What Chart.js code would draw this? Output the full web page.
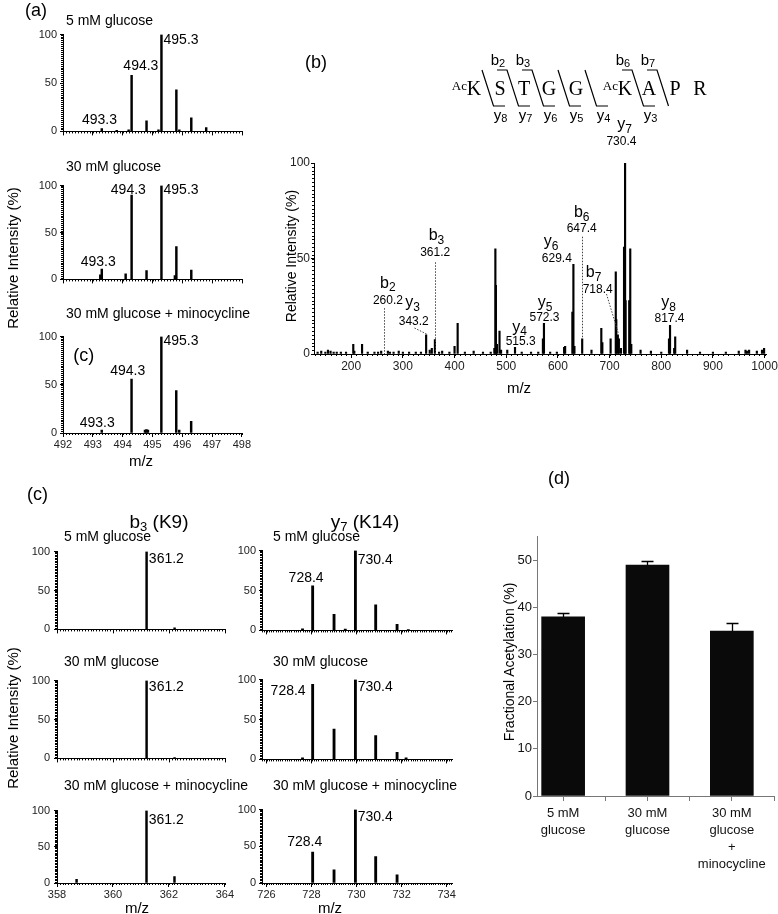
<!DOCTYPE html>
<html><head><meta charset="utf-8">
<script src="https://cdn.jsdelivr.net/npm/chart.js@4.4.1/dist/chart.umd.min.js"></script>
<style>
html,body{margin:0;padding:0;background:#fff;}
#wrap{position:relative;width:778px;height:914px;overflow:hidden;background:#fff;}
#wrap canvas{position:absolute;}
#wrap svg{position:absolute;left:0;top:0;pointer-events:none;}
</style></head>
<body><div id="wrap">
<svg width="778" height="914" font-family="Liberation Sans, Arial, sans-serif" fill="#000">
  <g dominant-baseline="central">
    <text x="25" y="10" font-size="18">(a)</text>
    <g font-size="14">
      <text x="66" y="20">5 mM glucose</text>
      <text x="66" y="166">30 mM glucose</text>
      <text x="66" y="313">30 mM glucose + minocycline</text>
    </g>
    <text x="141" y="460" font-size="15" text-anchor="middle">m/z</text>
    <text transform="translate(12,258) rotate(-90)" font-size="15" text-anchor="middle">Relative Intensity (%)</text>

    <text x="305" y="62" font-size="18">(b)</text>
    <text transform="translate(291,256) rotate(-90)" font-size="14" text-anchor="middle">Relative Intensity (%)</text>
    <text x="519" y="387" font-size="15" text-anchor="middle">m/z</text>

    <text x="27" y="494" font-size="18">(c)</text>
    <text x="159" y="521" font-size="19" text-anchor="middle">b<tspan font-size="13" dy="5">3</tspan><tspan dy="-5"> (K9)</tspan></text>
    <text x="365" y="521" font-size="19" text-anchor="middle">y<tspan font-size="13" dy="5">7</tspan><tspan dy="-5"> (K14)</tspan></text>
    <g font-size="14">
      <text x="64" y="536">5 mM glucose</text>
      <text x="273" y="536">5 mM glucose</text>
      <text x="64" y="661">30 mM glucose</text>
      <text x="273" y="661">30 mM glucose</text>
      <text x="64" y="785">30 mM glucose + minocycline</text>
      <text x="273" y="785">30 mM glucose + minocycline</text>
    </g>
    <text transform="translate(12,718) rotate(-90)" font-size="15" text-anchor="middle">Relative Intensity (%)</text>
    <text x="137" y="907" font-size="15" text-anchor="middle">m/z</text>
    <text x="330" y="907" font-size="15" text-anchor="middle">m/z</text>

    <text x="548" y="478" font-size="18">(d)</text>
    <text transform="translate(509,662) rotate(-90)" font-size="14" text-anchor="middle">Fractional Acetylation (%)</text>
  </g>
  <!-- peptide sequence -->
  <g font-family="Liberation Serif, Times New Roman, serif" font-size="20" text-anchor="middle">
    <text x="474" y="95">K</text><text x="500" y="95">S</text><text x="524" y="95">T</text>
    <text x="549" y="95">G</text><text x="576" y="95">G</text><text x="625" y="95">K</text>
    <text x="649" y="95">A</text><text x="675" y="95">P</text><text x="700" y="95">R</text>
  </g>
  <g font-family="Liberation Serif, Times New Roman, serif" font-size="13" text-anchor="end">
    <text x="467" y="90">Ac</text><text x="618" y="90">Ac</text>
  </g>
  <path d="M482 70L493.5 106h11.5 M497 70h10L518.5 106h11.5 M522 70h10L543.5 106h11.5 M558 70L569.5 106h11.5 M585 70L596.5 106h11.5 M622 70h10L643.5 106h11.5 M647 70h10L668.5 106" stroke="#000" stroke-width="1.2" fill="none"/>
  <g font-size="15" text-anchor="middle" dominant-baseline="central">
    <text x="498" y="59">b<tspan font-size="11" dy="4">2</tspan></text>
    <text x="523" y="59">b<tspan font-size="11" dy="4">3</tspan></text>
    <text x="623" y="59">b<tspan font-size="11" dy="4">6</tspan></text>
    <text x="648" y="59">b<tspan font-size="11" dy="4">7</tspan></text>
    <text x="500.5" y="114">y<tspan font-size="11" dy="4">8</tspan></text>
    <text x="525.5" y="114">y<tspan font-size="11" dy="4">7</tspan></text>
    <text x="550.5" y="114">y<tspan font-size="11" dy="4">6</tspan></text>
    <text x="576.5" y="114">y<tspan font-size="11" dy="4">5</tspan></text>
    <text x="603.5" y="114">y<tspan font-size="11" dy="4">4</tspan></text>
    <text x="650.5" y="114">y<tspan font-size="11" dy="4">3</tspan></text>
  </g>
</svg>
</div>
<script>
// ---------------- DATA ----------------
const specYTicks = [0, 50, 100];

// (a) precursor isotope clusters, [m/z, relative intensity %]
const aXTicks = [492, 493, 494, 495, 496, 497, 498];
const a5mM = [[493.3,3],[493.8,1],[494.2,1.5],[494.3,58],[494.8,11],[495.2,1.5],[495.3,100],[495.8,43],[495.9,1.5],[496.3,14],[496.8,4]];
const a30mM = [[493.25,5],[493.3,11],[494.1,6],[494.3,90],[494.8,9.5],[495.3,100],[495.75,4],[495.8,35],[496.3,10]];
const a30mMMino = [[493.3,3],[494.3,56],[494.75,3],[494.8,3.5],[494.85,3],[495.3,100],[495.8,44],[495.9,3],[496.3,12]];

// (b) MS/MS spectrum, [m/z, relative intensity %]
const bXTicks = [200, 300, 400, 500, 600, 700, 800, 900, 1000];
const bSpectrum = [
 [135,1],[142,1.5],[150,1],[155,2],[160,1.5],[166,1],[172,1],[180,1],[190,1],
 [204,5],[206,1.5],[221,5],[232,1],[245,1],[252,1],[258,1.5],[271,1.5],[275,1],[282,1],[292,1.5],[300,1],[312,1],[325,1],[335,1],
 [345,10],[352,2],[356,3],[362,7.5],[370,1],[376,1.5],[390,1],[400,4],[406,16],[420,1],[437,1.5],[455,1],[470,1],
 [477,3],[479,55],[480,36],[482,5],[487,12],[490,2],[502,2],[517,3.5],[530,1],[548,1],[562,1],
 [571,8],[573,16],[585,1],[598,1],[612,3.5],[614,4],[628,22],[630,47],[632,4],[647,8],[665,2],
 [684,13.5],[686,6],[702,8],[712,43],[713,18],[716,10],[718,8],[722,3],[728,56],[730,100],[731,28],[738,28],[740,55],[742,5],
 [760,2],[780,1.5],[800,1],[815,8],[817,15],[825,3],[827,9],[850,2],[875,1],[900,1],[925,1],[950,1.5],[963,2],[966,1.5],[970,2],[985,1.5],[995,2],[999,3]
];

// (c) fragment ion clusters
const cB3Ticks = [358, 360, 362, 364];
const cB3_5mM = [[361.2,100],[362.2,2]];
const cB3_30mM = [[361.2,100],[362.2,1]];
const cB3_30mMMino = [[358.7,5],[361.2,100],[362.2,9]];
const cY7Ticks = [726, 728, 730, 732, 734];
const cY7_5mM = [[727.6,2],[728.05,56],[729.0,20],[729.5,1.5],[729.95,100],[730.85,32],[731.8,7.5],[732.3,1]];
const cY7_30mM = [[727.6,2],[728.05,94],[729.0,38],[729.95,100],[730.85,30],[731.8,9],[732.2,2]];
const cY7_30mMMino = [[728.05,42],[729.0,18],[729.95,100],[730.85,36],[731.8,11]];

// (d) fractional acetylation
const dGroups = [['5 mM','glucose'], ['30 mM','glucose'], ['30 mM','glucose','+','minocycline']];
const dValues = [38, 49, 35];
const dErrors = [0.8, 0.9, 1.8];
const dYTicks = [0, 10, 20, 30, 40, 50];

// ---------------- RENDERING ----------------
const FONT = '"Liberation Sans", Arial, sans-serif';
const wrap = document.getElementById('wrap');
const svgEl = wrap.querySelector('svg');

const minorPlugin = {
  id: 'minor',
  afterDraw(chart, args, o) {
    const ctx = chart.ctx, xs = chart.scales.x, ys = chart.scales.y, ca = chart.chartArea;
    ctx.save(); ctx.strokeStyle = '#000'; ctx.lineWidth = 1; ctx.beginPath();
    if (o.xStep) {
      const n0 = Math.ceil(xs.min / o.xStep - 1e-6), n1 = Math.floor(xs.max / o.xStep + 1e-6);
      for (let n = n0; n <= n1; n++) {
        const p = Math.round(xs.getPixelForValue(n * o.xStep)) + 0.5;
        ctx.moveTo(p, ca.bottom); ctx.lineTo(p, ca.bottom + o.xLen);
      }
    }
    if (o.yStep) {
      const n0 = Math.ceil(ys.min / o.yStep - 1e-6), n1 = Math.floor(ys.max / o.yStep + 1e-6);
      for (let n = n0; n <= n1; n++) {
        const p = Math.round(ys.getPixelForValue(n * o.yStep)) + 0.5;
        ctx.moveTo(ca.left, p); ctx.lineTo(ca.left - o.yLen, p);
      }
    }
    ctx.stroke(); ctx.restore();
  }
};

function drawLabel(ctx, main, sub, x, y, size, align) {
  const fm = size + 'px ' + FONT, fs = Math.round(size * 0.72) + 'px ' + FONT;
  ctx.font = fm; const w1 = ctx.measureText(main).width;
  let w2 = 0; if (sub) { ctx.font = fs; w2 = ctx.measureText(sub).width; }
  const x0 = align === 'left' ? x : align === 'right' ? x - w1 - w2 : x - (w1 + w2) / 2;
  ctx.textBaseline = 'middle'; ctx.textAlign = 'left';
  ctx.font = fm; ctx.fillText(main, x0, y);
  if (sub) { ctx.font = fs; ctx.fillText(sub, x0 + w1, y + size * 0.3); }
}

const notesPlugin = {
  id: 'notes',
  afterDatasetsDraw(chart, args, o) {
    const ctx = chart.ctx, xs = chart.scales.x, ys = chart.scales.y;
    ctx.save(); ctx.fillStyle = '#000';
    for (const it of (o.items || [])) {
      if (it.line) {
        ctx.beginPath(); ctx.setLineDash([1.5, 1.5]); ctx.lineWidth = 1; ctx.strokeStyle = '#444';
        it.line.forEach((p, k) => {
          const X = Math.round(xs.getPixelForValue(p[0])) + 0.5, Y = ys.getPixelForValue(p[1]);
          k ? ctx.lineTo(X, Y) : ctx.moveTo(X, Y);
        });
        ctx.stroke(); ctx.setLineDash([]);
        continue;
      }
      drawLabel(ctx, it.t, it.s, xs.getPixelForValue(it.x), ys.getPixelForValue(it.y), it.size || 14, it.align || 'center');
    }
    ctx.restore();
  }
};

function makeCanvas(plot, YW, XH, PT, PR) {
  const W = Math.round(plot.r - plot.l + YW + PR), H = Math.round(plot.b - plot.t + PT + XH);
  const cv = document.createElement('canvas');
  cv.width = W; cv.height = H;
  Object.assign(cv.style, {left: (plot.l - YW) + 'px', top: (plot.t - PT) + 'px', width: W + 'px', height: H + 'px'});
  wrap.insertBefore(cv, svgEl);
  return cv;
}

function spectrum(plot, peaks, o) {
  const YW = o.yw || 34, XH = o.xh || 6, PT = o.pt || 8, PR = o.pr || 10;
  const cv = makeCanvas(plot, YW, XH, PT, PR);
  return new Chart(cv, {
    type: 'bar',
    data: {datasets: [{data: peaks.map(p => ({x: p[0], y: p[1]})), backgroundColor: '#000', borderWidth: 0, barThickness: o.bar || 1.8}]},
    options: {
      responsive: false, maintainAspectRatio: false, animation: false, devicePixelRatio: 1,
      layout: {padding: {top: PT, right: PR, left: 0, bottom: 0}},
      plugins: {legend: {display: false}, tooltip: {enabled: false}, minor: o.minor, notes: {items: o.notes || []}},
      scales: {
        x: {type: 'linear', min: o.xmin, max: o.xmax, offset: false,
          grid: {offset: false, drawOnChartArea: false, drawTicks: true, tickLength: o.xTickLen || 4, color: '#000', lineWidth: 1},
          border: {display: true, color: '#000', width: 1},
          ticks: {display: !!o.xLabels, autoSkip: false, maxRotation: 0, minRotation: 0, padding: 1, color: '#222', font: {family: FONT, size: o.xFont || 11}, callback: v => String(v)},
          afterBuildTicks: s => { s.ticks = o.xTicks.map(v => ({value: v})); },
          afterFit: s => { s.height = XH; }},
        y: {type: 'linear', min: 0, max: 100,
          grid: {drawOnChartArea: false, drawTicks: true, tickLength: 3, color: '#000', lineWidth: 1},
          border: {display: true, color: '#000', width: 1},
          ticks: {padding: o.yPad || 3, color: '#222', font: {family: FONT, size: o.yFont || 11}, callback: v => String(v)},
          afterBuildTicks: s => { s.ticks = specYTicks.map(v => ({value: v})); },
          afterFit: s => { s.width = YW; }}
      }
    },
    plugins: [minorPlugin, notesPlugin]
  });
}

// ----- (a)
const aMinor = {xStep: 0.1, xLen: 2, yStep: 2, yLen: 2};
const aCommon = {xmin: 492, xmax: 498, xTicks: aXTicks, minor: aMinor, bar: 1.8};
spectrum({l: 63, r: 242, t: 33, b: 135}, a5mM, Object.assign({}, aCommon, {notes: [
  {t: '494.3', x: 494.61, y: 67.5}, {t: '495.3', x: 495.37, y: 94, align: 'left'}, {t: '493.3', x: 493.22, y: 11.3}]}));
spectrum({l: 63, r: 242, t: 184, b: 283}, a30mM, Object.assign({}, aCommon, {notes: [
  {t: '494.3', x: 494.19, y: 95}, {t: '495.3', x: 495.37, y: 95, align: 'left'}, {t: '493.3', x: 493.18, y: 18.5}]}));
spectrum({l: 63, r: 242, t: 335, b: 433}, a30mMMino, Object.assign({}, aCommon, {xLabels: true, xh: 22, notes: [
  {t: '494.3', x: 494.17, y: 64}, {t: '495.3', x: 495.37, y: 95, align: 'left'}, {t: '493.3', x: 493.15, y: 10.5},
  {t: '(c)', x: 492.7, y: 80, size: 18}]}));

// ----- (b)
spectrum({l: 314, r: 767, t: 163, b: 354}, bSpectrum, {
  xmin: 128, xmax: 1004, xTicks: bXTicks, xLabels: true, xh: 24, pt: 74, pr: 12, yw: 30, bar: 1.5,
  xFont: 12, yFont: 12, yPad: 1,
  minor: {xStep: 10, xLen: 2, yStep: 2, yLen: 2},
  notes: [
    {t: 'b', s: '2', x: 271, y: 37, size: 16}, {t: '260.2', x: 271, y: 28, size: 12}, {line: [[263, 24], [263, 0]]},
    {t: 'y', s: '3', x: 319, y: 26.7, size: 16}, {t: '343.2', x: 321, y: 16.8, size: 12}, {line: [[322, 13.6], [345, 10.5]]},
    {t: 'b', s: '3', x: 365, y: 62, size: 16}, {t: '361.2', x: 362.5, y: 53, size: 12}, {line: [[362, 48], [362, 0]]},
    {t: 'y', s: '4', x: 526, y: 14, size: 16}, {t: '515.3', x: 528, y: 6.3, size: 12},
    {t: 'y', s: '5', x: 575, y: 27, size: 16}, {t: '572.3', x: 574, y: 19, size: 12},
    {t: 'y', s: '6', x: 587, y: 58.6, size: 16}, {t: '629.4', x: 598, y: 50, size: 12},
    {t: 'b', s: '6', x: 646, y: 73.8, size: 16}, {t: '647.4', x: 646, y: 65.4, size: 12}, {line: [[647, 61.4], [647, 8]]},
    {t: 'b', s: '7', x: 669, y: 42.4, size: 16}, {t: '718.4', x: 677, y: 33.5, size: 12}, {line: [[694, 31.4], [716, 10.5]]},
    {t: 'y', s: '7', x: 729, y: 120, size: 16}, {t: '730.4', x: 723, y: 111, size: 12},
    {t: 'y', s: '8', x: 814, y: 27, size: 16}, {t: '817.4', x: 816, y: 18.3, size: 12}
  ]
});

// ----- (c)
const cRows = [{t: 549, b: 634}, {t: 678, b: 763}, {t: 808, b: 883}];
const cLeftData = [cB3_5mM, cB3_30mM, cB3_30mMMino];
const cRightData = [cY7_5mM, cY7_30mM, cY7_30mMMino];
const cLeftNoteY = [90, 92, 87];
const cRightNotes = [
  [{t: '730.4', x: 730.05, y: 88, align: 'left'}, {t: '728.4', x: 727.76, y: 65}],
  [{t: '730.4', x: 730.05, y: 91, align: 'left'}, {t: '728.4', x: 726.96, y: 86}],
  [{t: '730.4', x: 730.05, y: 90, align: 'left'}, {t: '728.4', x: 727.7, y: 55}]
];
cRows.forEach((row, i) => {
  const last = i === 2;
  spectrum({l: 57, r: 225, t: row.t, b: row.b}, cLeftData[i], {
    xmin: 358, xmax: 364, xTicks: cB3Ticks, xLabels: last, xh: last ? 20 : 6, bar: 1.8,
    minor: {xStep: 0.1, xLen: 2, yStep: 2, yLen: 2}, yPad: 4,
    notes: [{t: '361.2', x: 361.28, y: cLeftNoteY[i], align: 'left'}]
  });
  spectrum({l: 262, r: 452, t: row.t, b: row.b}, cRightData[i], {
    xmin: 725.8, xmax: 734.24, xTicks: cY7Ticks, xLabels: last, xh: last ? 20 : 6, bar: 2.2,
    minor: {xStep: 0.1, xLen: 2, yStep: 2, yLen: 2}, yPad: 3,
    notes: cRightNotes[i]
  });
});

// ----- (d)
const errPlugin = {
  id: 'errbars',
  afterDatasetsDraw(chart) {
    const ctx = chart.ctx, xs = chart.scales.x, ys = chart.scales.y;
    ctx.save(); ctx.strokeStyle = '#000'; ctx.lineWidth = 1.3; ctx.beginPath();
    dValues.forEach((v, i) => {
      const x = Math.round(xs.getPixelForValue(i + 1)) + 0.5;
      const y0 = ys.getPixelForValue(v);
      const y1 = Math.round(ys.getPixelForValue(v + dErrors[i])) + 0.5;
      ctx.moveTo(x, y0); ctx.lineTo(x, y1);
      ctx.moveTo(x - 6, y1); ctx.lineTo(x + 6, y1);
    });
    ctx.stroke(); ctx.restore();
  }
};
(function () {
  const plot = {l: 537, r: 775, t: 536, b: 796};
  const YW = 34, XH = 90, PT = 8, PR = 3;
  const cv = makeCanvas(plot, YW, XH, PT, PR);
  const xTicks = [];
  dGroups.forEach((g, i) => { xTicks.push(i + 1, i + 1.5); });
  new Chart(cv, {
    type: 'bar',
    data: {datasets: [{data: dValues.map((v, i) => ({x: i + 1, y: v})), backgroundColor: '#0a0a0a', borderWidth: 0, barThickness: 43}]},
    options: {
      responsive: false, maintainAspectRatio: false, animation: false, devicePixelRatio: 1,
      layout: {padding: {top: PT, right: PR, left: 0, bottom: 0}},
      plugins: {legend: {display: false}, tooltip: {enabled: false}},
      scales: {
        x: {type: 'linear', min: 0.69, max: 3.5, offset: false,
          grid: {offset: false, drawOnChartArea: false, drawTicks: true, tickLength: 5, color: '#777'},
          border: {display: true, color: '#777', width: 1},
          ticks: {autoSkip: false, maxRotation: 0, minRotation: 0, padding: 4, color: '#111', font: {family: FONT, size: 13, lineHeight: 1.3},
            callback: v => Number.isInteger(v) ? dGroups[v - 1] : ''},
          afterBuildTicks: s => { s.ticks = xTicks.map(v => ({value: v})); },
          afterFit: s => { s.height = XH; }},
        y: {type: 'linear', min: 0, max: 55,
          grid: {drawOnChartArea: false, drawTicks: true, tickLength: 4, color: '#777'},
          border: {display: true, color: '#777', width: 1},
          ticks: {padding: 1, color: '#111', font: {family: FONT, size: 13}},
          afterBuildTicks: s => { s.ticks = dYTicks.map(v => ({value: v})); },
          afterFit: s => { s.width = YW; }}
      }
    },
    plugins: [errPlugin]
  });
})();
</script>
</body></html>
